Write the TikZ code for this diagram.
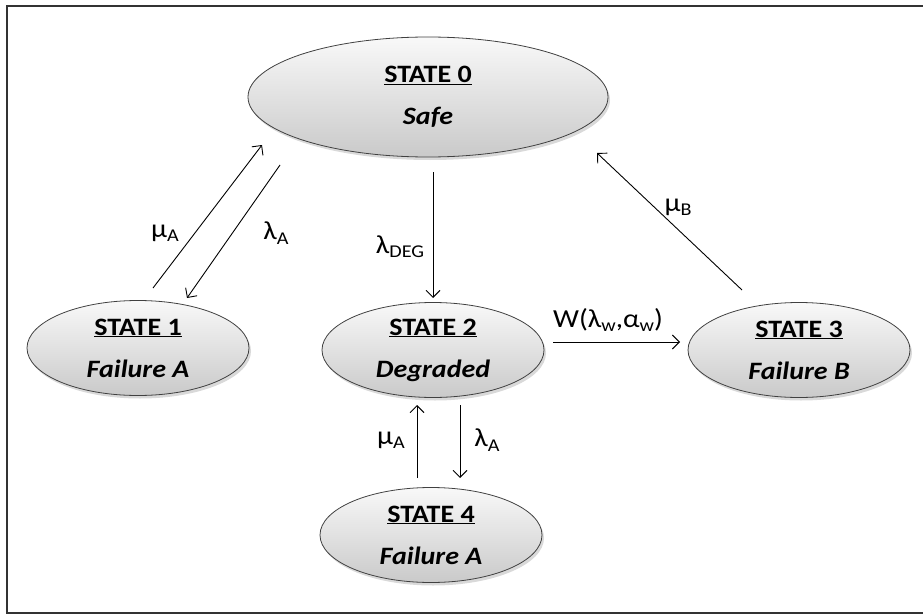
\documentclass[tikz,border=0pt]{standalone}
\usepackage{fontspec}
\setmainfont{Carlito}[FakeStretch=1.12]
\usetikzlibrary{shapes.geometric,arrows.meta,shadows}
\newcommand{\lowidx}[1]{\raisebox{-0.35ex}{\fontsize{18}{18}\selectfont #1}}

\begin{document}
\begin{tikzpicture}[x=1pt,y=-1pt,
  state/.style={ellipse, draw=black!75, line width=0.8pt,
    top color=gray!5, bottom color=gray!42,
    drop shadow={opacity=0.3, shadow xshift=2pt, shadow yshift=-3pt},
    inner sep=0pt, minimum width=222pt, minimum height=95pt,
    align=center, font=\fontsize{25}{42}\selectfont\bfseries},
  trans/.style={-{Straight Barb[length=7pt,width=14pt]}, line width=0.9pt},
  rate/.style={font=\fontsize{26}{26}\selectfont}]
  \useasboundingbox (0,0) rectangle (923,615);
  \draw[line width=1.6pt, black!80] (930,6) -- (7,6) -- (7,613) -- (930,613);

  % states
  \node[state, minimum width=360pt, minimum height=120pt] (s0) at (428,97) {\underline{STATE 0}\\\textit{Safe}};
  \node[state] (s1) at (138,348) {\underline{STATE 1}\\\textit{Failure A}};
  \node[state] (s2) at (433,350) {\underline{STATE 2}\\\textit{Degraded}};
  \node[state] (s3) at (799,350) {\underline{STATE 3}\\\textit{Failure B}};
  \node[state] (s4) at (431,535) {\underline{STATE 4}\\\textit{Failure A}};

  % transitions
  \draw[trans] ([shift={(15,-60)}]s1.center) -- ([shift={(-166,48)}]s0.center);
  \draw[trans] ([shift={(-148,68)}]s0.center) -- ([shift={(49,-50)}]s1.center);
  \draw[trans] ([shift={(5,75)}]s0.center) -- ([shift={(0,-52)}]s2.center);
  \draw[trans] ([shift={(-57,-60)}]s3.center) -- ([shift={(169,56)}]s0.center);
  \draw[trans] ([shift={(120,-8)}]s2.center) -- ([shift={(-119,-8)}]s3.center);
  \draw[trans] ([shift={(-14,-57)}]s4.center) -- ([shift={(-16,55)}]s2.center);
  \draw[trans] ([shift={(27,55)}]s2.center) -- ([shift={(29,-57)}]s4.center);

  % rates
  \node[rate] (muA1) at (165,233) {μ\lowidx{A}};
  \node[rate] (laA1) at (276,233) {λ\lowidx{A}};
  \node[rate] (laDEG) at (400,247) {λ\lowidx{DEG}};
  \node[rate] (muB) at (678,207) {μ\lowidx{B}};
  \node[rate] (wRate) at (608,320) {W(λ\lowidx{w},α\lowidx{w})};
  \node[rate] (muA2) at (391,440) {μ\lowidx{A}};
  \node[rate] (laA2) at (487,440) {λ\lowidx{A}};
\end{tikzpicture}
\end{document}
